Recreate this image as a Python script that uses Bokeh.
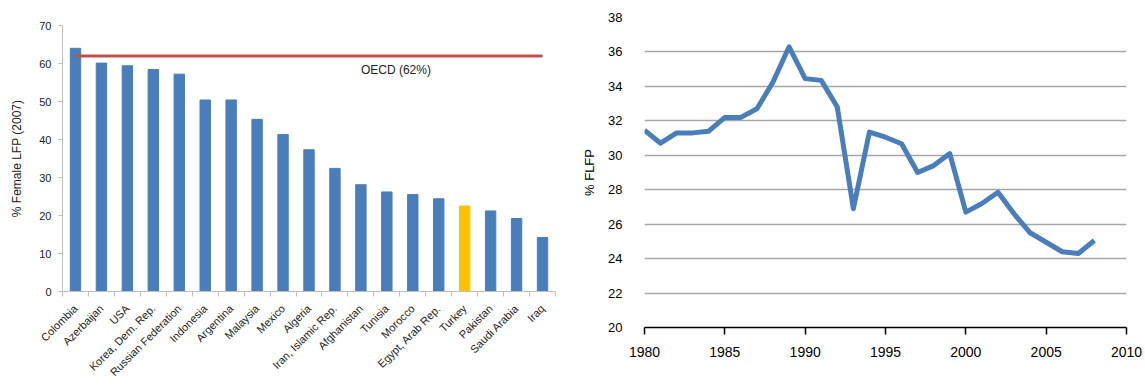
import numpy as np
from bokeh.plotting import figure
from bokeh.layouts import row, column
from bokeh.models import FixedTicker, SingleIntervalTicker, Range1d
from bokeh.core.properties import value
from bokeh.embed import file_html
from bokeh.resources import INLINE

# ---- data: left chart ----
countries = ["Colombia", "Azerbaijan", "USA", "Korea, Dem. Rep.", "Russian Federation",
             "Indonesia", "Argentina", "Malaysia", "Mexico", "Algeria",
             "Iran, Islamic Rep.", "Afghanistan", "Tunisia", "Morocco",
             "Egypt, Arab Rep.", "Turkey", "Pakistan", "Saudi Arabia", "Iraq"]
flfp_2007 = [64.0, 60.1, 59.4, 58.4, 57.2, 50.4, 50.4, 45.3, 41.3, 37.3,
             32.4, 28.1, 26.2, 25.5, 24.4, 22.5, 21.2, 19.2, 14.2]
highlight = "Turkey"
oecd_value = 62
oecd_label = "OECD (62%)"
left_yticks = [0, 10, 20, 30, 40, 50, 60, 70]

# ---- data: right chart ----
years = [1980, 1981, 1982, 1983, 1984, 1985, 1986, 1987, 1988, 1989,
         1990, 1991, 1992, 1993, 1994, 1995, 1996, 1997, 1998, 1999,
         2000, 2001, 2002, 2003, 2004, 2005, 2006, 2007, 2008]
turkey_flfp = [31.45, 30.7, 31.3, 31.3, 31.4, 32.2, 32.2, 32.7, 34.25, 36.3,
               34.45, 34.35, 32.8, 26.9, 31.35, 31.05, 30.67, 29.0, 29.4, 30.1,
               26.7, 27.2, 27.85, 26.6, 25.5, 24.95, 24.4, 24.3, 25.05]

BLUE = "#4a7ebb"
FONT = "Liberation Sans"

# ---------------- left figure ----------------
n = len(countries)
centers = [i + 0.5 for i in range(n)]
colors = ["#ffc000" if c == highlight else BLUE for c in countries]

p1 = figure(width=565, height=385, output_backend="svg", toolbar_location=None,
            x_range=Range1d(0, n), y_range=Range1d(0, 70),
            min_border_left=62, min_border_right=10, min_border_top=25,
            min_border_bottom=92)
p1.vbar(x=centers, top=flfp_2007, width=0.4, color=colors)
p1.line(x=[centers[0], centers[-1]], y=[oecd_value, oecd_value],
        line_color="#c0504d", line_width=3)
p1.text(x=[centers[11]], y=[oecd_value], text=[oecd_label],
        text_font=value(FONT), text_font_size="12px", text_color="#222222",
        text_align="left", text_baseline="middle", y_offset=14)

p1.outline_line_color = None
p1.grid.visible = False

p1.xaxis.ticker = FixedTicker(ticks=centers, minor_ticks=list(range(n + 1)))
p1.xaxis.major_label_overrides = {c: name for c, name in zip(centers, countries)}
p1.xaxis.major_label_orientation = np.pi / 4
p1.xaxis.major_tick_line_color = None
p1.xaxis.minor_tick_line_color = "#bfbfbf"
p1.xaxis.minor_tick_out = 5
p1.xaxis.minor_tick_in = 0
p1.xaxis.axis_line_color = "#bfbfbf"
p1.xaxis.major_label_text_font = FONT
p1.xaxis.major_label_text_font_size = "11px"
p1.xaxis.major_label_text_color = "#222222"
p1.xaxis.major_label_standoff = 9

p1.yaxis.ticker = FixedTicker(ticks=left_yticks)
p1.yaxis.axis_line_color = "#bfbfbf"
p1.yaxis.major_tick_line_color = "#bfbfbf"
p1.yaxis.major_tick_out = 4
p1.yaxis.major_tick_in = 0
p1.yaxis.minor_tick_line_color = None
p1.yaxis.major_label_text_font = FONT
p1.yaxis.major_label_text_font_size = "11px"
p1.yaxis.major_label_text_color = "#222222"
p1.yaxis.major_label_standoff = 7
p1.yaxis.axis_label = "% Female LFP (2007)"
p1.yaxis.axis_label_text_font = FONT
p1.yaxis.axis_label_text_font_size = "12px"
p1.yaxis.axis_label_text_font_style = "normal"
p1.yaxis.axis_label_text_color = "#222222"
p1.yaxis.axis_label_standoff = 12

# ---------------- right figure ----------------
p2 = figure(width=580, height=385, output_backend="svg", toolbar_location=None,
            x_range=Range1d(1980, 2010), y_range=Range1d(20, 38),
            min_border_left=79, min_border_right=19, min_border_top=17,
            min_border_bottom=58)
p2.line(x=years, y=turkey_flfp, line_color=BLUE, line_width=5, line_join="round")

p2.outline_line_color = None
p2.xgrid.visible = False
p2.ygrid.grid_line_color = "#a6a6a6"
p2.ygrid.grid_line_width = 1.5
p2.ygrid.ticker = SingleIntervalTicker(interval=2)

p2.xaxis.ticker = SingleIntervalTicker(interval=5)
p2.xaxis.axis_line_color = "black"
p2.xaxis.axis_line_width = 1.5
p2.xaxis.major_tick_line_color = "black"
p2.xaxis.major_tick_line_width = 1.5
p2.xaxis.major_tick_out = 7
p2.xaxis.major_tick_in = 0
p2.xaxis.minor_tick_line_color = None
p2.xaxis.major_label_text_font = FONT
p2.xaxis.major_label_text_font_size = "14px"
p2.xaxis.major_label_text_color = "black"
p2.xaxis.major_label_standoff = 12

p2.yaxis.ticker = SingleIntervalTicker(interval=2)
p2.yaxis.axis_line_color = None
p2.yaxis.major_tick_line_color = None
p2.yaxis.minor_tick_line_color = None
p2.yaxis.major_tick_out = 0
p2.yaxis.major_label_standoff = 18
p2.yaxis.major_label_text_font = FONT
p2.yaxis.major_label_text_font_size = "13px"
p2.yaxis.major_label_text_color = "black"
p2.yaxis.axis_label = "% FLFP"
p2.yaxis.axis_label_text_font = FONT
p2.yaxis.axis_label_text_font_size = "13px"
p2.yaxis.axis_label_text_font_style = "normal"
p2.yaxis.axis_label_text_color = "black"
p2.yaxis.axis_label_standoff = 8

layout = row(column(p1), column(p2))
open("out.html", "w").write(file_html(layout, INLINE))
